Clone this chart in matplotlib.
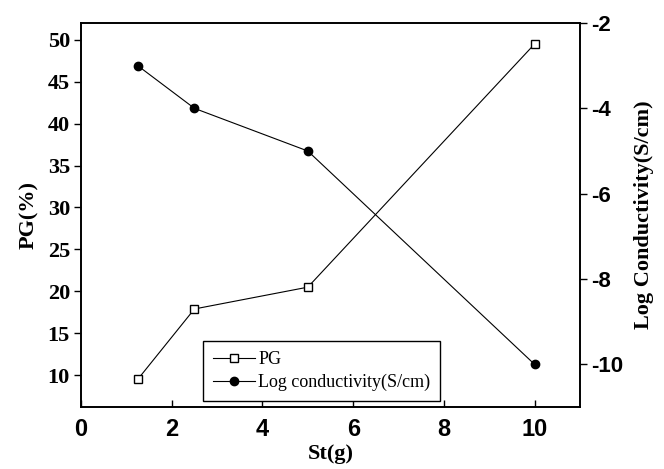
import matplotlib
matplotlib.use("Agg")
import matplotlib.pyplot as plt
from matplotlib.lines import Line2D

plt.rcParams["axes.unicode_minus"] = False

# data
st = [1.25, 2.5, 5, 10]
pg = [9.5, 17.9, 20.5, 49.5]
log_cond = [-3.0, -4.0, -5.0, -10.0]

x_ticks = [0, 2, 4, 6, 8, 10]
pg_ticks = [10, 15, 20, 25, 30, 35, 40, 45, 50]
cond_ticks = [-2, -4, -6, -8, -10]

serif = ["Liberation Serif", "DejaVu Serif"]
sans = ["Liberation Sans Narrow", "Liberation Sans", "DejaVu Sans"]

fig = plt.figure(figsize=(6.64, 4.69), dpi=100)
ax = fig.add_axes([0.122, 0.132, 0.7515, 0.819])
ax2 = ax.twinx()

ax.plot(st, pg, color="black", lw=0.8, marker="s", ms=5.5, mfc="white", mec="black", mew=1)
ax2.plot(st, log_cond, color="black", lw=0.8, marker="o", ms=6, mfc="black", mec="black")

ax.set_xlim(0, 11)
ax.set_ylim(6.2, 52)
ax2.set_ylim(-11, -2)

ax.set_xticks(x_ticks)
ax.set_yticks(pg_ticks)
ax2.set_yticks(cond_ticks)

ax.tick_params(axis="x", direction="in", length=5, width=1, pad=8)
ax.tick_params(axis="y", direction="out", length=5, width=1, pad=3)
ax2.tick_params(axis="y", direction="out", length=5, width=1, pad=3)

for lab in ax.get_xticklabels():
    lab.set_fontfamily(sans)
    lab.set_fontweight("bold")
    lab.set_fontsize(17)
for lab in ax.get_yticklabels():
    lab.set_fontfamily(serif)
    lab.set_fontweight("bold")
    lab.set_fontsize(16)
for lab in ax2.get_yticklabels():
    lab.set_fontfamily(sans)
    lab.set_fontweight("bold")
    lab.set_fontsize(16)

for a in (ax, ax2):
    for s in a.spines.values():
        s.set_linewidth(1.2)

ax.set_xlabel("St(g)", fontfamily=serif, fontweight="bold", fontsize=16, labelpad=2)
ax.set_ylabel("PG(%)", fontfamily=serif, fontweight="bold", fontsize=16, labelpad=6)
ax2.set_ylabel("Log Conductivity(S/cm)", fontfamily=serif, fontweight="bold", fontsize=16, labelpad=8)

handles = [
    Line2D([], [], color="black", lw=0.8, marker="s", ms=5.5, mfc="white", mec="black"),
    Line2D([], [], color="black", lw=0.8, marker="o", ms=6, mfc="black", mec="black"),
]
leg = ax.legend(handles, ["PG", "Log conductivity(S/cm)"], loc="lower left",
                bbox_to_anchor=(0.245, 0.016), fancybox=False, edgecolor="black",
                framealpha=1, prop={"family": serif, "size": 13},
                handlelength=2.3, borderpad=0.55, labelspacing=0.3, handletextpad=0.2,
                borderaxespad=0)
leg.get_frame().set_linewidth(1)

fig.savefig("out.png", dpi=100)
